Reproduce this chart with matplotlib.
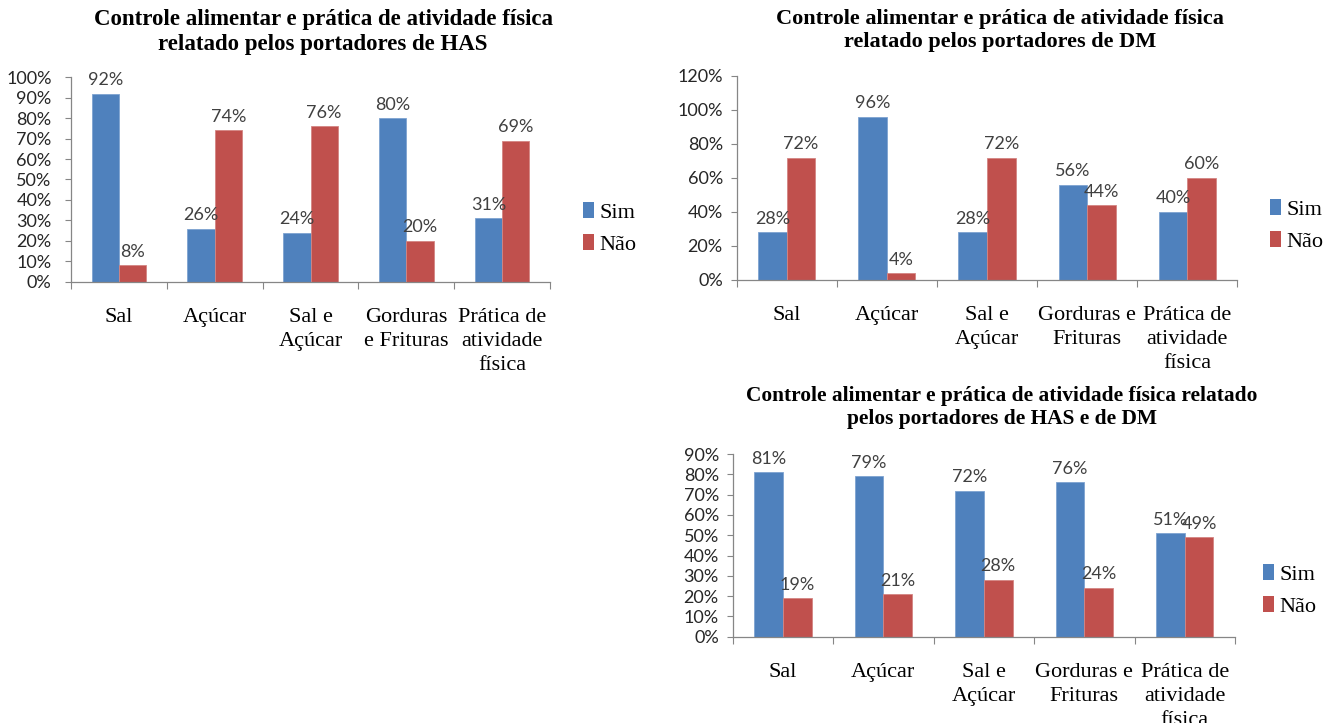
import matplotlib
matplotlib.use("Agg")
import matplotlib.pyplot as plt
from matplotlib.patches import Patch
from matplotlib.transforms import Bbox, TransformedBbox
import numpy as np

# ---- data ----
categories_has = ["Sal", "Açúcar", "Sal e\nAçúcar", "Gorduras\ne Frituras",
                  "Prática de\natividade\nfísica"]
categories_dm = ["Sal", "Açúcar", "Sal e\nAçúcar", "Gorduras e\nFrituras",
                 "Prática de\natividade\nfísica"]
categories_both = categories_dm

has_sim = [92, 26, 24, 80, 31]
has_nao = [8, 74, 76, 20, 69]

dm_sim = [28, 96, 28, 56, 40]
dm_nao = [72, 4, 72, 44, 60]

both_sim = [81, 79, 72, 76, 51]
both_nao = [19, 21, 28, 24, 49]

series_names = ["Sim", "Não"]

title_has = "Controle alimentar e prática de atividade física\nrelatado pelos portadores de HAS"
title_dm = "Controle alimentar e prática de atividade física\nrelatado pelos portadores de DM"
title_both = "Controle alimentar e prática de atividade física relatado\npelos portadores de HAS e de DM"

# ---- style ----
BLUE = "#4F81BD"
RED = "#C0504D"
AXIS_GRAY = "#868686"
LABEL_GRAY = "#404040"
SERIF = "Liberation Serif"
SANS = "Lato"

W, H = 1333, 723
fig = plt.figure(figsize=(W / 100, H / 100), dpi=100)
fig.patch.set_facecolor("white")


def px_axes(left, right, bottom, top):
    """Axes rectangle from pixel edges (origin at the top-left)."""
    return [left / W, 1 - bottom / H, (right - left) / W, (bottom - top) / H]


def bar_panel(rect, cats, sim, nao, ymax, ystep, title, title_xy, title_size,
              legend_xy, clip_y=None, ypad=6):
    ax = fig.add_axes(rect)
    n = len(cats)
    x = np.arange(n)
    w = 1 / 3.5
    b1 = ax.bar(x - w / 2, np.array(sim) / 100, w, color=BLUE,
                edgecolor="#7EA3D1", linewidth=0.6)
    b2 = ax.bar(x + w / 2, np.array(nao) / 100, w, color=RED,
                edgecolor="#D48583", linewidth=0.6)
    for bars, vals in ((b1, sim), (b2, nao)):
        for rect_, v in zip(bars, vals):
            ax.annotate(f"{v}%", (rect_.get_x() + rect_.get_width() / 2, v / 100),
                        xytext=(0, 4), textcoords="offset points",
                        ha="center", va="bottom", fontsize=13,
                        family=SANS, color=LABEL_GRAY)

    ax.set_xlim(-0.5, n - 0.5)
    ax.set_ylim(0, ymax)
    yt = np.arange(0, ymax + 1e-9, ystep)
    ax.set_yticks(yt)
    ax.set_yticklabels([f"{round(t * 100)}%" for t in yt], family=SANS,
                       fontsize=13, color="#262626")
    ax.tick_params(axis="y", length=4, width=0.8, color=AXIS_GRAY, pad=ypad)

    # group boundary ticks on the category axis, labels centred in between
    ax.set_xticks(np.arange(-0.5, n, 1.0))
    ax.set_xticklabels([])
    ax.set_xticks(x, minor=True)
    ax.set_xticklabels(cats, minor=True, family=SERIF, fontsize=16,
                       linespacing=1.35)
    ax.tick_params(axis="x", which="major", length=5, width=0.8,
                   color=AXIS_GRAY, direction="out")
    ax.tick_params(axis="x", which="minor", length=0, pad=19)

    for s in ("top", "right"):
        ax.spines[s].set_visible(False)
    for s in ("left", "bottom"):
        ax.spines[s].set_color(AXIS_GRAY)
        ax.spines[s].set_linewidth(0.9)

    if clip_y is not None:
        box = TransformedBbox(Bbox.from_extents(0, 1 - clip_y / H, 1, 1),
                              fig.transFigure)
        for lab in ax.get_xticklabels(minor=True):
            lab.set_clip_box(box)
            lab.set_clip_on(True)

    fig.text(title_xy[0] / W, 1 - title_xy[1] / H, title, ha="center",
             va="center", family=SERIF, fontweight="bold", fontsize=title_size,
             linespacing=1.2)

    handles = [Patch(facecolor=BLUE, edgecolor="none"),
               Patch(facecolor=RED, edgecolor="none")]
    ax.legend(handles, series_names, loc="center left",
              bbox_to_anchor=(legend_xy[0] / W, 1 - legend_xy[1] / H),
              bbox_transform=fig.transFigure, frameon=False,
              prop={"family": SERIF, "size": 16}, handlelength=0.5,
              handleheight=0.7, handletextpad=0.25, labelspacing=0.5,
              borderpad=0, borderaxespad=0)
    return ax


bar_panel(px_axes(71, 550, 281.7, 77.3), categories_has, has_sim, has_nao,
          1.0, 0.1, title_has, (323, 32), 16.5, (583, 228.5), clip_y=372,
          ypad=10)
bar_panel(px_axes(736.7, 1237.3, 280, 76), categories_dm, dm_sim, dm_nao,
          1.2, 0.2, title_dm, (1000, 30.5), 16, (1270, 225.5), clip_y=369)
bar_panel(px_axes(732.7, 1235, 636.7, 454), categories_both, both_sim, both_nao,
          0.9, 0.1, title_both, (1002, 407.5), 15.4, (1263, 590.5))

fig.savefig("out.png", dpi=100, facecolor="white")
